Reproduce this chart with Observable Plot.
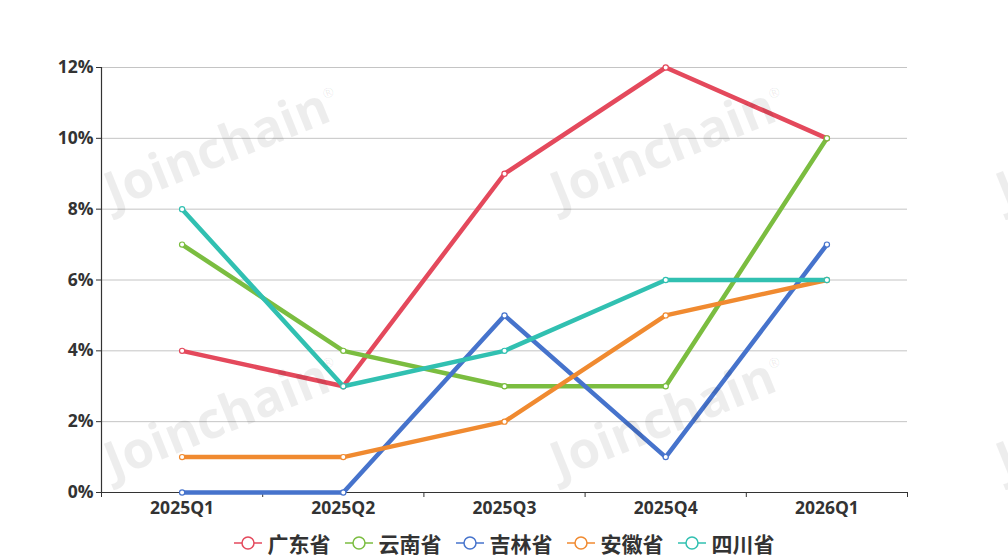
<!DOCTYPE html>
<html><head><meta charset="utf-8">
<script src="https://cdn.jsdelivr.net/npm/d3@7"></script>
<script src="https://cdn.jsdelivr.net/npm/@observablehq/plot@0.6"></script>
<style>
body{margin:0;background:#fff;}
#chart svg{display:block;}
#legend{display:flex;justify-content:center;align-items:center;height:36px;font-family:"Noto Sans CJK SC","Noto Sans",sans-serif;font-weight:bold;font-size:21px;color:#333;}
.item{display:flex;align-items:center;margin:0 7px;}
.item svg{margin-right:6px;}
</style></head><body><div id="chart"></div><div id="legend"></div>
<script>
const quarters = ["2025Q1","2025Q2","2025Q3","2025Q4","2026Q1"];
const seriesNames = ["广东省","云南省","吉林省","安徽省","四川省"];
const guangdong = [4,3,9,12,10];
const yunnan = [7,4,3,3,10];
const jilin = [0,0,5,1,7];
const anhui = [1,1,2,5,6];
const sichuan = [8,3,4,6,6];
const colors = ["#e4495c","#7bbd40","#4673cc","#f08a30","#31c0b1"];
const yTicks = [0,2,4,6,8,10,12];
const watermark = "Joinchain";

const allSeries = [guangdong, yunnan, jilin, anhui, sichuan];
const rows = [];
allSeries.forEach((vals, si) => vals.forEach((v, i) => rows.push({i, v, s: seriesNames[si]})));
const bounds = d3.range(quarters.length + 1).map(k => k - 0.5);

const font = "'Open Sans','Noto Sans',sans-serif";
const chart = Plot.plot({
  width: 1008, height: 525,
  marginLeft: 101, marginRight: 101, marginTop: 67, marginBottom: 33,
  style: {fontFamily: font, color: "#333", background: "#fff"},
  x: {type: "linear", domain: [-0.5, quarters.length - 0.5], axis: null, label: null},
  y: {domain: [0, 12], axis: null, label: null},
  color: {domain: seriesNames, range: colors},
  marks: [
    Plot.ruleY(yTicks.filter(d => d > 0), {stroke: "#c4c4c4", strokeWidth: 1}),
    Plot.axisY({ticks: yTicks, tickFormat: d => d + "%", tickSize: 5, tickPadding: 3, fontSize: 17.5, fontWeight: "bold", stroke: "#333", label: null}),
    Plot.axisX({ticks: d3.range(quarters.length), tickFormat: i => quarters[i], tickSize: 0, tickPadding: 9, fontSize: 17.5, fontWeight: "bold", label: null}),
    Plot.axisX({ticks: bounds, tickFormat: () => "", tickSize: 5, stroke: "#333", label: null}),
    Plot.ruleX([-0.5], {y1: 0, y2: 12, stroke: "#333", strokeWidth: 1.2}),
    Plot.ruleY([0], {stroke: "#333", strokeWidth: 1.2}),
    Plot.line(rows, {x: "i", y: "v", z: "s", stroke: "s", strokeWidth: 4.5, strokeLinejoin: "round"}),
    Plot.dot(rows, {x: "i", y: "v", stroke: "s", fill: "white", r: 2.6, strokeWidth: 1.2})
  ]
});
document.getElementById("chart").appendChild(chart);

// watermark overlay
const svg = d3.select(chart);
const centers = [[222,146],[668,146],[1114,146],[222,416],[668,416],[1114,416]];
const wm = svg.append("g").attr("pointer-events", "none");
centers.forEach(([cx, cy]) => {
  const t = wm.append("text")
    .attr("transform", `translate(${cx},${cy}) rotate(-22)`)
    .attr("text-anchor", "middle")
    .attr("dy", "0.35em")
    .attr("font-family", "'Open Sans',sans-serif")
    .attr("font-weight", "bold")
    .attr("font-size", 51)
    .attr("fill", "#000")
    .attr("fill-opacity", 0.07);
  t.append("tspan").text(watermark);
  t.append("tspan").attr("font-size", 14).attr("dy", "-1.6em").text("®");
});

// legend
const legend = d3.select("#legend");
seriesNames.forEach((name, k) => {
  const it = legend.append("div").attr("class", "item");
  const s = it.append("svg").attr("width", 28).attr("height", 16);
  s.append("line").attr("x1", 0).attr("x2", 28).attr("y1", 8).attr("y2", 8).attr("stroke", colors[k]).attr("stroke-width", 1.5);
  s.append("circle").attr("cx", 14).attr("cy", 8).attr("r", 6).attr("fill", "white").attr("stroke", colors[k]).attr("stroke-width", 1.5);
  it.append("span").text(name);
});
</script></body></html>
